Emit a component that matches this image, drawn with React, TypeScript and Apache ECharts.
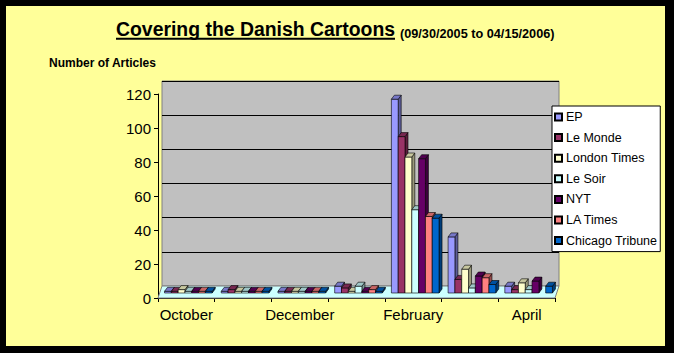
import React, { useEffect, useRef } from 'react';
import * as echarts from 'echarts';

const months = ['October', 'November', 'December', 'January', 'February', 'March', 'April'];
const seriesNames = ['EP', 'Le Monde', 'London Times', 'Le Soir', 'NYT', 'LA Times', 'Chicago Tribune'];
const seriesColors = ['#9999FF', '#993366', '#FFFFCC', '#CCFFFF', '#660066', '#FF8080', '#0066CC'];

const ep = [1, 1, 1, 4, 114, 33, 4];
const leMonde = [1, 2, 1, 3, 92, 8, 2];
const londonTimes = [2, 1, 1, 1, 80, 14, 6];
const leSoir = [1, 1, 1, 4, 49, 3, 2];
const nyt = [1, 1, 1, 1, 79, 10, 7];
const laTimes: (number | null)[] = [1, 1, 1, 2, 45, 9, null];
const chicagoTribune = [1, 1, 1, 1, 44, 5, 4];

const allValues = [ep, leMonde, londonTimes, leSoir, nyt, laTimes, chicagoTribune];

const yMin = 0;
const yMax = 120;
const yStep = 20;

const FONT = '"Liberation Sans", Arial, sans-serif';

function shade(hex: string, f: number) {
  const n = parseInt(hex.slice(1), 16);
  const r = (n >> 16) & 255, g = (n >> 8) & 255, b = n & 255;
  const c = (v: number) => Math.round(v * f);
  return `rgb(${c(r)},${c(g)},${c(b)})`;
}

const OX = 2;
const OY = -5;
const DX = 3;
const DY = 4;

const makeRender = (s: number) => (params: any, api: any) => {
  const v = api.value(1);
  if (v == null || isNaN(v)) return null;
  const cat = api.value(0);
  const base = api.coord([cat, 0]);
  const top = api.coord([cat, v]);
  const catW = api.size([1, 0])[0];
  const groupW = catW * 0.84;
  const bw = groupW / 7;
  const x0 = base[0] - groupW / 2 + s * bw + OX;
  const x1 = x0 + bw;
  const yb = base[1] + OY;
  const yt = top[1] + OY;
  const color = seriesColors[s];
  const stroke = { stroke: '#000', lineWidth: 0.6 };
  return {
    type: 'group',
    children: [
      {
        type: 'polygon',
        shape: { points: [[x1, yb], [x1 + DX, yb - DY], [x1 + DX, yt - DY], [x1, yt]] },
        style: { fill: shade(color, 0.6), ...stroke },
      },
      {
        type: 'rect',
        shape: { x: x0, y: yt, width: bw, height: yb - yt },
        style: { fill: color, ...stroke },
      },
      {
        type: 'polygon',
        shape: { points: [[x0, yt], [x1, yt], [x1 + DX, yt - DY], [x0 + DX, yt - DY]] },
        style: { fill: shade(color, 0.78), ...stroke },
      },
    ],
  };
};

export default function App() {
  const ref = useRef<HTMLDivElement>(null);
  useEffect(() => {
    if (!ref.current) return;
    const chart = echarts.init(ref.current, null, { renderer: 'svg' });
    const series = seriesNames.map((name, s) => ({
      name,
      type: 'custom',
      xAxisIndex: 1,
      yAxisIndex: 1,
      clip: false,
      z: 3,
      itemStyle: { color: seriesColors[s], borderColor: '#000', borderWidth: 1 },
      encode: { x: 0, y: 1 },
      renderItem: makeRender(s),
      data: months.map((_, i) => [i, allValues[s][i]]),
    }));
    chart.setOption({
      animation: false,
      backgroundColor: '#FFFF99',
      textStyle: { fontFamily: FONT },
      grid: [
        {
          left: 156, top: 75, width: 397, height: 205,
          show: true, backgroundColor: '#C0C0C0', borderColor: '#808080', borderWidth: 1,
        },
        { left: 152, top: 88, width: 397, height: 204 },
      ],
      xAxis: [
        {
          gridIndex: 0, type: 'category', data: months,
          axisLine: { show: false }, axisTick: { show: false }, axisLabel: { show: false },
          splitLine: { show: false },
        },
        {
          gridIndex: 1, type: 'category', data: months,
          axisLine: { show: true, lineStyle: { color: '#000', width: 1 } },
          axisTick: { show: true, interval: 0, length: 4, lineStyle: { color: '#000' } },
          axisLabel: { interval: 1, color: '#000', fontSize: 15, fontFamily: FONT, margin: 9 },
          splitLine: { show: false },
        },
      ],
      yAxis: [
        {
          gridIndex: 0, type: 'value', min: yMin, max: yMax, interval: yStep,
          axisLine: { show: false }, axisTick: { show: false }, axisLabel: { show: false },
          splitLine: { show: true, lineStyle: { color: '#000', width: 1 } },
        },
        {
          gridIndex: 1, type: 'value', min: yMin, max: yMax, interval: yStep,
          axisLine: { show: true, lineStyle: { color: '#000', width: 1 } },
          axisTick: { show: true, length: 4, lineStyle: { color: '#000' } },
          axisLabel: { color: '#000', fontSize: 15, fontFamily: FONT, margin: 7 },
          splitLine: { show: false },
        },
      ],
      legend: {
        data: seriesNames,
        orient: 'vertical',
        left: 546,
        top: 100,
        icon: 'rect',
        itemWidth: 7,
        itemHeight: 7,
        itemGap: 6.6,
        padding: [4, 3, 4, 2],
        backgroundColor: '#FFFFFF',
        borderColor: '#000',
        borderWidth: 1,
        borderRadius: 0,
        textStyle: { color: '#000', fontSize: 12.5, fontFamily: FONT, lineHeight: 14, padding: [0, 0, 0, -1] },
      },
      graphic: [
        {
          type: 'polygon', z: 1,
          shape: { points: [[152, 292], [549, 292], [553, 280], [156, 280]] },
          style: { fill: '#CCFFFF', stroke: '#808080', lineWidth: 1 },
        },
        {
          type: 'text', x: 110, y: 23,
          style: {
            text: 'Covering the Danish Cartoons', fill: '#000',
            font: `bold 19.4px ${FONT}`, textAlign: 'left', textVerticalAlign: 'middle',
          },
        },
        {
          type: 'line',
          shape: { x1: 110, y1: 32.8, x2: 389, y2: 32.8 },
          style: { stroke: '#000', lineWidth: 2 },
        },
        {
          type: 'text', x: 394, y: 27.5,
          style: {
            text: '(09/30/2005 to 04/15/2006)', fill: '#000',
            font: `bold 12.7px ${FONT}`, textAlign: 'left', textVerticalAlign: 'middle',
          },
        },
        {
          type: 'text', x: 43, y: 57,
          style: {
            text: 'Number of Articles', fill: '#000',
            font: `bold 12px ${FONT}`, textAlign: 'left', textVerticalAlign: 'middle',
          },
        },
      ],
      series,
    });
    return () => chart.dispose();
  }, []);
  return (
    <div style={{ position: 'absolute', left: 0, top: 0, width: 674, height: 353, background: '#000' }}>
      <div
        ref={ref}
        style={{ position: 'absolute', left: 6, top: 6, width: 659, height: 340, background: '#FFFF99' }}
      />
    </div>
  );
}
